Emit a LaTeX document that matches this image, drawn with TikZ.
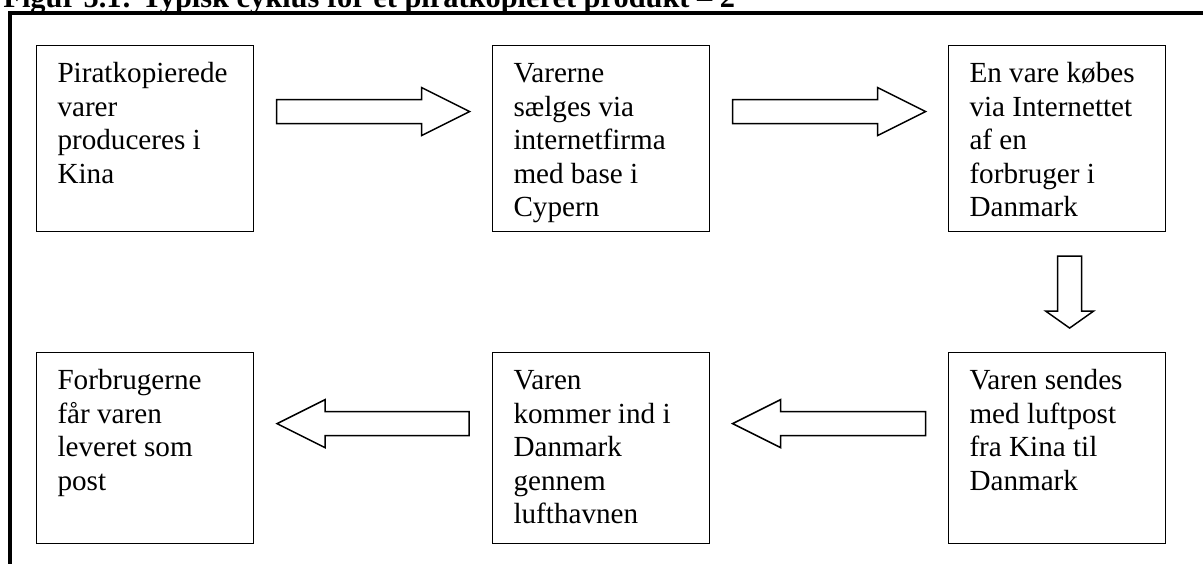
\documentclass[tikz,border=0pt]{standalone}
\usepackage{fontspec}
\setmainfont{Liberation Serif}
\usetikzlibrary{calc}

\newcommand\stagetext[2]{\parbox[c][#1][t]{89.3pt}{\leftskip=8.6pt\rule{0pt}{15.2pt}#2}}
\newcommand\hollowarrow[4]{%
  \draw[hollow, shift={#1}, rotate=#2] (-#3,-12) -- (#3-#4,-12) -- (#3-#4,-24) -- (#3,0)
    -- (#3-#4,24) -- (#3-#4,12) -- (-#3,12) -- cycle;}

\tikzset{
  stage/.style={draw, line width=0.5pt, anchor=north west, inner sep=0pt},
  hollow/.style={draw, line width=0.6pt, fill=white, line join=miter},
  frame/.style={line width=1.65pt},
}

\begin{document}
\begin{tikzpicture}[x=0.4115pt, y=-0.4115pt, font=\fontsize{12pt}{13.8pt}\selectfont]
  \useasboundingbox (0,0) rectangle (1203,563);

  \node[anchor=base west, inner xsep=0pt, font=\fontsize{12.5pt}{14pt}\selectfont\bfseries] (title) at (3,7.5)
    {Figur 5.1: Typisk cyklus for et piratkopieret produkt \textendash{} 2};
  \draw[frame] (1210,13) -- (10,13) -- (10,570);

  % top row
  \node[stage] (b1) at (36,45) {\stagetext{76.5pt}{Piratkopierede\\varer\\produceres i\\Kina}};
  \node[stage] (b2) at (492,45) {\stagetext{76.5pt}{Varerne\\sælges via\\internetfirma\\med base i\\Cypern}};
  \node[stage] (b3) at (948,45) {\stagetext{76.5pt}{En vare købes\\via Internettet\\af en\\forbruger i\\Danmark}};

  % bottom row
  \node[stage] (b4) at (36,352) {\stagetext{78.6pt}{Forbrugerne\\får varen\\leveret som\\post}};
  \node[stage] (b5) at (492,352) {\stagetext{78.6pt}{Varen\\kommer ind i\\Danmark\\gennem\\lufthavnen}};
  \node[stage] (b6) at (948,352) {\stagetext{78.6pt}{Varen sendes\\med luftpost\\fra Kina til\\Danmark}};

  % arrows between the stages
  \hollowarrow{($(b1.east)!0.5!(b2.west)+(0,-27)$)}{0}{96.5}{48}
  \hollowarrow{($(b2.east)!0.5!(b3.west)+(0,-27)$)}{0}{96.5}{48}
  \hollowarrow{($(b3.south)!0.5!(b6.north)+(12.5,0)$)}{-90}{36}{17}
  \hollowarrow{($(b6.west)!0.5!(b5.east)+(0,-24.5)$)}{180}{96.5}{48}
  \hollowarrow{($(b5.west)!0.5!(b4.east)+(0,-24.5)$)}{180}{96}{48}
\end{tikzpicture}
\end{document}
